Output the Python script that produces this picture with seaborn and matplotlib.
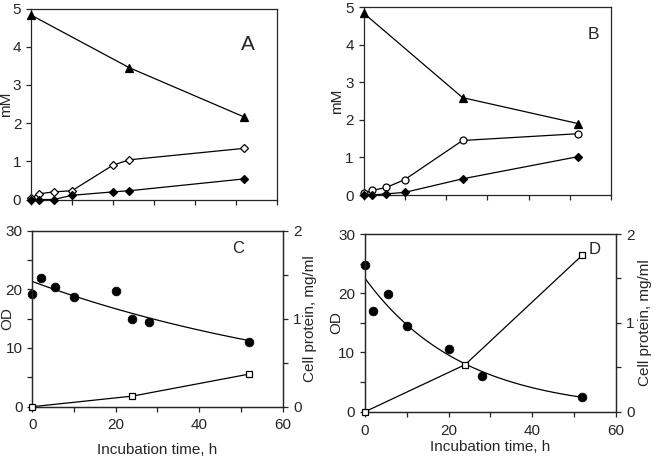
import matplotlib
matplotlib.use("Agg")
import matplotlib.pyplot as plt
import numpy as np
import seaborn as sns

# panel A: mM vs time
a_tri_x = [0, 24, 52]
a_tri_y = [4.83, 3.45, 2.16]
a_open_x = [0, 2, 5.5, 10, 20, 24, 52]
a_open_y = [0.04, 0.15, 0.2, 0.23, 0.9, 1.04, 1.34]
a_fill_x = [0, 2, 5.5, 10, 20, 24, 52]
a_fill_y = [0.0, 0.0, 0.0, 0.11, 0.2, 0.23, 0.54]

# panel B
b_tri_x = [0, 24, 52]
b_tri_y = [4.84, 2.59, 1.9]
b_open_x = [0, 2, 5.5, 10, 24, 52]
b_open_y = [0.04, 0.12, 0.2, 0.41, 1.45, 1.63]
b_fill_x = [0, 2, 5.5, 10, 24, 52]
b_fill_y = [0.0, 0.0, 0.03, 0.07, 0.43, 1.02]

# panel C: OD (left) and cell protein (right)
c_od_x = [0, 2, 5.5, 10, 20, 24, 28, 52]
c_od_y = [19.2, 21.9, 20.3, 18.6, 19.7, 14.9, 14.5, 11.1]
c_prot_x = [0, 24, 52]
c_prot_y = [0.0, 0.12, 0.37]

# panel D
d_od_x = [0, 2, 5.5, 10, 20, 28, 52]
d_od_y = [24.8, 17.0, 19.8, 14.5, 10.6, 6.0, 2.5]
d_prot_x = [0, 24, 52]
d_prot_y = [0.0, 0.53, 1.76]

sns.set_style("ticks")
plt.rcParams['font.family'] = ['Liberation Sans', 'DejaVu Sans']
plt.rcParams['axes.linewidth'] = 0.9
plt.rcParams['xtick.major.width'] = 0.9
plt.rcParams['ytick.major.width'] = 0.9
plt.rcParams['xtick.major.size'] = 3.5
plt.rcParams['ytick.major.size'] = 3.5

FS = 11
fig = plt.figure(figsize=(6.55, 4.61), dpi=100)

axA = fig.add_axes([0.0473, 0.5672, 0.3756, 0.4143])
axB = fig.add_axes([0.555, 0.577, 0.3779, 0.4078])
axC = fig.add_axes([0.0493, 0.1178, 0.382, 0.3822])
axD = fig.add_axes([0.5573, 0.1069, 0.3824, 0.3855])


def line(ax, x, y, marker, fill, ms):
    sns.lineplot(x=x, y=y, ax=ax, color='black', linewidth=0.9, marker=marker,
                 markersize=ms, markerfacecolor=fill, markeredgecolor='black',
                 markeredgewidth=0.9, clip_on=False, zorder=3)


def top_panel(ax, tri, opn, fil, open_marker, letter, lpos, lsize, ylx):
    line(ax, *tri, '^', 'black', 6)
    line(ax, *opn, open_marker, 'white', 4.5 if open_marker == 'D' else 5)
    line(ax, *fil, 'D', 'black', 4.5)
    ax.set_xlim(0, 60)
    ax.set_ylim(0, 5)
    ax.set_xticks(np.arange(0, 61, 10))
    ax.set_xticklabels([])
    ax.set_yticks(range(6))
    ax.tick_params(labelsize=FS, pad=3.5)
    ax.set_ylabel("mM", fontsize=FS, va='center')
    ax.yaxis.set_label_coords(ylx, 0.5)
    ax.text(lpos[0], lpos[1], letter, fontsize=lsize, ha='center', va='center')


top_panel(axA, (a_tri_x, a_tri_y), (a_open_x, a_open_y), (a_fill_x, a_fill_y),
          'D', 'A', (53, 4.05), 15, -0.1)
top_panel(axB, (b_tri_x, b_tri_y), (b_open_x, b_open_y), (b_fill_x, b_fill_y),
          'o', 'B', (55.6, 4.26), 12.5, -0.108)


def bottom_panel(ax, odx, ody, px, py, letter, lpos, ylx, yrx, xly):
    sns.scatterplot(x=odx, y=ody, ax=ax, color='black', s=40, edgecolor='black',
                    clip_on=False, zorder=4)
    # exponential trend fitted to the OD points
    k, b = np.polyfit(odx, np.log(ody), 1)
    xs = np.linspace(0, max(odx), 100)
    sns.lineplot(x=xs, y=np.exp(b + k * xs), ax=ax, color='black', linewidth=0.9)
    ax.set_xlim(0, 60)
    ax.set_ylim(0, 30)
    ax.set_xticks(np.arange(0, 61, 10))
    ax.set_xticklabels(['0', '', '20', '', '40', '', '60'])
    ax.set_yticks(np.arange(0, 31, 5))
    ax.set_yticklabels(['0', '', '10', '', '20', '', '30'])
    ax.tick_params(labelsize=FS, pad=3.5)
    ax.tick_params(axis='x', pad=5)
    ax.set_ylabel("OD", fontsize=FS, va='center')
    ax.yaxis.set_label_coords(ylx, 0.5)
    ax.set_xlabel("Incubation time, h", fontsize=FS, va='center')
    ax.xaxis.set_label_coords(0.5, xly)
    ax.text(lpos[0], lpos[1], letter, fontsize=12, ha='center', va='center')

    ax2 = ax.twinx()
    line(ax2, px, py, 's', 'white', 5)
    ax2.set_ylim(0, 2)
    ax2.set_yticks(np.arange(0, 2.01, 0.5))
    ax2.set_yticklabels(['0', '', '1', '', '2'])
    ax2.tick_params(labelsize=FS, pad=4)
    ax2.set_ylabel("Cell protein, mg/ml", fontsize=FS, va='center')
    ax2.yaxis.set_label_coords(yrx, 0.5)
    for s in ax2.spines.values():
        s.set_linewidth(0.9)


bottom_panel(axC, c_od_x, c_od_y, c_prot_x, c_prot_y, 'C', (49.3, 27),
             -0.1, 1.11, -0.246)
bottom_panel(axD, d_od_x, d_od_y, d_prot_x, d_prot_y, 'D', (55, 27.3),
             -0.116, 1.118, -0.2)

fig.savefig("out.png", dpi=100)
